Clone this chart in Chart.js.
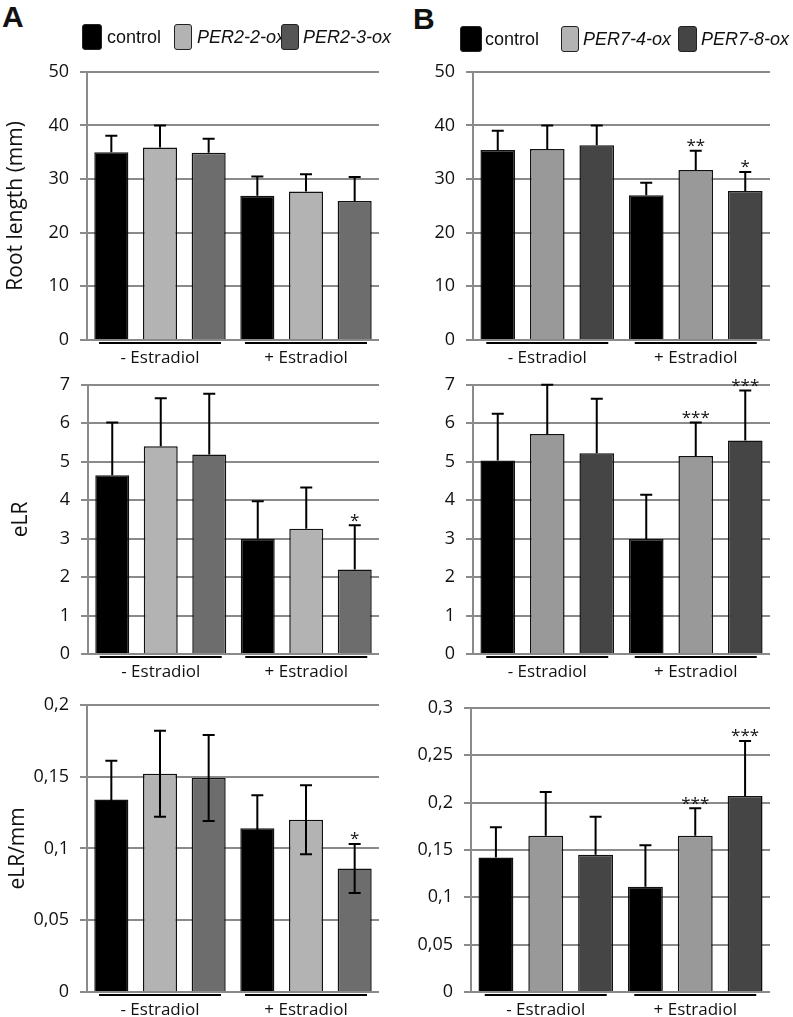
<!DOCTYPE html>
<html lang="en">
<head>
    <meta charset="UTF-8">
    <title>Root length and eLR</title>
    <script src="https://cdn.jsdelivr.net/npm/chart.js@4"></script>
    <style>
        body {
            margin: 0;
            width: 793px;
            height: 1017px;
            background: #fff;
            position: relative;
            overflow: hidden;
            font-family: "Liberation Sans", Arial, sans-serif;
            color: #111;
        }
        canvas {
            position: absolute;
        }
        .letter {
            position: absolute;
            font-weight: bold;
            font-size: 30px;
            line-height: 30px;
        }
        .legend {
            position: absolute;
            font-size: 18px;
            line-height: 26px;
            height: 26px;
        }
        .swatch {
            position: absolute;
            box-sizing: border-box;
            border: 1.5px solid #222;
            border-radius: 3px;
        }
        .legend span {
            position: absolute;
            white-space: nowrap;
        }
        .legend i {
            font-style: italic;
        }
    </style>
</head>
<body>
    <canvas id="rootA" width="395" height="322" style="left:0; top:50px;"></canvas>
    <canvas id="rootB" width="393" height="322" style="left:400px; top:50px;"></canvas>
    <canvas id="elrA" width="395" height="329" style="left:0; top:363px;"></canvas>
    <canvas id="elrB" width="393" height="329" style="left:400px; top:363px;"></canvas>
    <canvas id="ratioA" width="395" height="334" style="left:0; top:683px;"></canvas>
    <canvas id="ratioB" width="393" height="331" style="left:400px; top:686px;"></canvas>

    <div class="letter" style="left:2px; top:2px;">A</div>
    <div class="letter" style="left:413px; top:4px;">B</div>

    <div class="legend" id="legendA" style="left:0; top:24px;"></div>
    <div class="legend" id="legendB" style="left:0; top:26px;"></div>

    <script>
        // categories and lines
        const groups = ['- Estradiol', '+ Estradiol'];
        const linesA = ['control', 'PER2-2-ox', 'PER2-3-ox'];
        const linesB = ['control', 'PER7-4-ox', 'PER7-8-ox'];
        const colorsA = ['#000000', '#b3b3b3', '#6d6d6d'];
        const colorsB = ['#000000', '#999999', '#454545'];

        // root length (mm): one row per line, [- Estradiol, + Estradiol]
        const rootA = [[35.0, 26.9], [35.9, 27.7], [34.9, 25.9]];
        const rootAErr = [[3.1, 3.6], [4.1, 3.2], [2.6, 4.5]];
        const rootAStars = [['', ''], ['', ''], ['', '']];
        const rootB = [[35.4, 27.0], [35.6, 31.7], [36.3, 27.8]];
        const rootBErr = [[3.6, 2.3], [4.4, 3.6], [3.7, 3.5]];
        const rootBStars = [['', ''], ['', '**'], ['', '*']];

        // eLR
        const elrA = [[4.65, 3.0], [5.40, 3.26], [5.19, 2.20]];
        const elrAErr = [[1.37, 0.97], [1.25, 1.07], [1.58, 1.15]];
        const elrAStars = [['', ''], ['', ''], ['', '*']];
        const elrB = [[5.03, 2.99], [5.72, 5.15], [5.22, 5.55]];
        const elrBErr = [[1.22, 1.15], [1.28, 0.87], [1.42, 1.30]];
        const elrBStars = [['', ''], ['', '***'], ['', '***']];

        // eLR/mm
        const ratioA = [[0.134, 0.114], [0.152, 0.120], [0.149, 0.086]];
        const ratioAErr = [[0.027, 0.023], [0.030, 0.024], [0.030, 0.017]];
        const ratioAStars = [['', ''], ['', ''], ['', '*']];
        const ratioB = [[0.142, 0.111], [0.165, 0.165], [0.145, 0.207]];
        const ratioBErr = [[0.032, 0.044], [0.046, 0.029], [0.040, 0.058]];
        const ratioBStars = [['', ''], ['', '***'], ['', '***']];

        Chart.defaults.font.family = 'Open Sans';
        Chart.defaults.font.size = 21;
        Chart.defaults.color = '#111';

        // legends (HTML)
        function buildLegend(id, names, colors, pos) {
            const el = document.getElementById(id);
            names.forEach((name, i) => {
                const sw = document.createElement('div');
                sw.className = 'swatch';
                sw.style.left = pos[i][0] + 'px';
                sw.style.width = pos[i][1] + 'px';
                sw.style.top = '0px';
                sw.style.height = '26px';
                sw.style.background = colors[i];
                el.appendChild(sw);
                const t = document.createElement('span');
                t.style.left = pos[i][2] + 'px';
                t.style.top = '0px';
                t.innerHTML = i === 0 ? name : '<i>' + name + '</i>';
                el.appendChild(t);
            });
        }
        buildLegend('legendA', linesA, ['#000000', '#b3b3b3', '#555555'],
            [[82, 20, 107], [174, 18, 197], [281, 18, 303]]);
        buildLegend('legendB', linesB, ['#000000', '#b3b3b3', '#454545'],
            [[460, 22, 485], [561, 18, 583], [678, 19, 701]]);

        // error bars, stars and group underlines
        const decor = {
            id: 'decor',
            afterDatasetsDraw(chart, args, opts) {
                const ctx = chart.ctx;
                const ys = chart.scales.y;
                const xs = chart.scales.x;
                ctx.save();
                ctx.strokeStyle = '#000';
                ctx.fillStyle = '#111';
                ctx.lineWidth = 2;
                ctx.font = '17px "Open Sans"';
                ctx.textAlign = 'center';
                ctx.textBaseline = 'bottom';
                chart.data.datasets.forEach((ds, i) => {
                    const meta = chart.getDatasetMeta(i);
                    meta.data.forEach((bar, j) => {
                        const top = Math.max(ys.getPixelForValue(ds.data[j] + opts.err[i][j]), chart.chartArea.top);
                        const low = opts.both ? ys.getPixelForValue(ds.data[j] - opts.err[i][j]) : bar.y;
                        ctx.beginPath();
                        ctx.moveTo(bar.x, low);
                        ctx.lineTo(bar.x, top);
                        ctx.moveTo(bar.x - 6, top);
                        ctx.lineTo(bar.x + 6, top);
                        if (opts.both) {
                            ctx.moveTo(bar.x - 6, low);
                            ctx.lineTo(bar.x + 6, low);
                        }
                        ctx.stroke();
                        if (opts.stars[i][j]) {
                            ctx.fillText(opts.stars[i][j], bar.x, top + 4);
                        }
                    });
                });
                const yLine = chart.chartArea.bottom + 3;
                xs.ticks.forEach((t, k) => {
                    const cx = xs.getPixelForTick(k);
                    ctx.beginPath();
                    ctx.moveTo(cx - 61, yLine);
                    ctx.lineTo(cx + 61, yLine);
                    ctx.stroke();
                });
                ctx.restore();
            }
        };

        function fmt(v) {
            return String(Number(v.toFixed(2))).replace('.', ',');
        }

        function makePanel(id, names, colors, values, errs, stars, cfg) {
            const datasets = names.map((name, i) => ({
                label: name,
                data: values[i],
                backgroundColor: colors[i],
                borderColor: '#111',
                borderWidth: 1.5,
                borderSkipped: 'bottom',
                categoryPercentage: 1.0,
                barPercentage: 0.7
            }));
            new Chart(document.getElementById(id), {
                type: 'bar',
                data: { labels: groups, datasets: datasets },
                plugins: [decor],
                options: {
                    responsive: false,
                    animation: false,
                    devicePixelRatio: 1,
                    layout: { padding: { top: 0, right: cfg.right, left: 0, bottom: 0 } },
                    plugins: {
                        legend: { display: false },
                        tooltip: { enabled: false },
                        decor: { err: errs, stars: stars, both: !!cfg.both }
                    },
                    scales: {
                        x: {
                            grid: { display: false, drawTicks: false },
                            border: { display: false },
                            ticks: {
                                color: '#111',
                                padding: 8,
                                font: { family: 'Open Sans', size: 17 }
                            },
                            afterFit: s => { s.height = cfg.xh; }
                        },
                        y: {
                            min: 0,
                            max: cfg.max,
                            grid: { color: '#8a8a8a', lineWidth: 2, tickLength: 7 },
                            border: { color: '#8a8a8a', width: 2 },
                            ticks: {
                                stepSize: cfg.step,
                                color: '#111',
                                padding: 11,
                                font: { family: 'Open Sans', size: 18 },
                                callback: v => fmt(v)
                            },
                            title: {
                                display: !!cfg.title,
                                text: cfg.title || '',
                                color: '#111',
                                padding: { top: cfg.titlePad || 0, bottom: 0 },
                                font: { family: 'Open Sans', size: 21 }
                            },
                            afterFit: s => { s.width = cfg.yw; }
                        }
                    }
                }
            });
        }

        makePanel('rootA', linesA, colorsA, rootA, rootAErr, rootAStars,
            { right: 16, xh: 32, yw: 87, max: 50, step: 10, title: 'Root length (mm)', titlePad: 3 });
        makePanel('rootB', linesB, colorsB, rootB, rootBErr, rootBStars,
            { right: 23, xh: 32, yw: 73, max: 50, step: 10 });
        makePanel('elrA', linesA, colorsA, elrA, elrAErr, elrAStars,
            { right: 16, xh: 38, yw: 88, max: 7, step: 1, title: 'eLR', titlePad: 8 });
        makePanel('elrB', linesB, colorsB, elrB, elrBErr, elrBStars,
            { right: 23, xh: 38, yw: 73, max: 7, step: 1 });
        makePanel('ratioA', linesA, colorsA, ratioA, ratioAErr, ratioAStars,
            { right: 16, xh: 25, yw: 87, max: 0.2, step: 0.05, title: 'eLR/mm', titlePad: 5, both: true });
        makePanel('ratioB', linesB, colorsB, ratioB, ratioBErr, ratioBStars,
            { right: 23, xh: 25, yw: 71, max: 0.3, step: 0.05 });
    </script>
</body>
</html>
